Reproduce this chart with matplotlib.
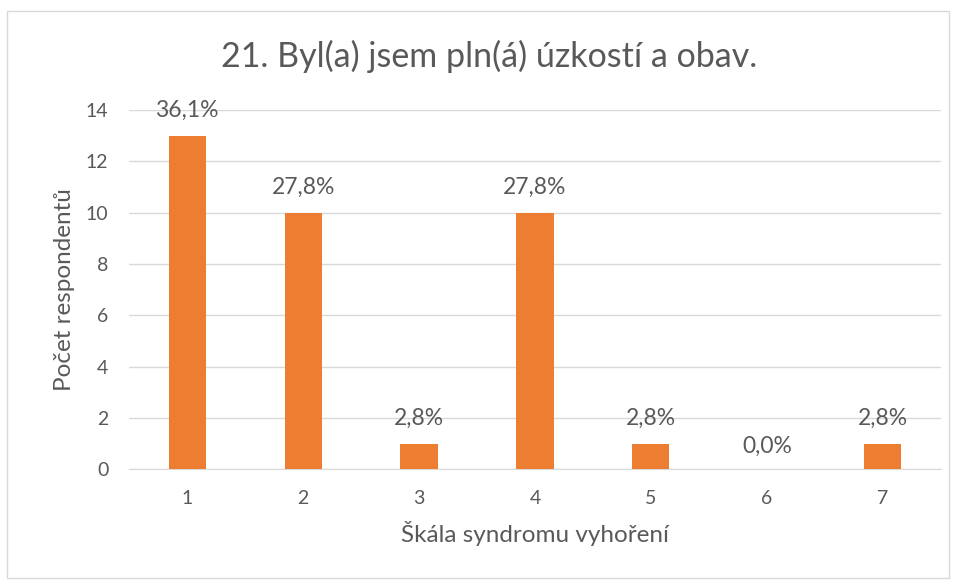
import matplotlib.pyplot as plt
from matplotlib.patches import Rectangle

kategorie = ["1", "2", "3", "4", "5", "6", "7"]
pocty = [13, 10, 1, 10, 1, 0, 1]
popisky = ["36,1%", "27,8%", "2,8%", "27,8%", "2,8%", "0,0%", "2,8%"]

SEDA = "#595959"
ORANZOVA = "#ED7D31"

plt.rcParams['font.family'] = ['Lato', 'DejaVu Sans']

fig = plt.figure(figsize=(9.57, 5.8), dpi=100)
ax = fig.add_axes([0.135, 0.191, 0.848, 0.619])

x = range(len(kategorie))
ax.bar(x, pocty, width=0.32, color=ORANZOVA, zorder=3)

for xi, v, txt in zip(x, pocty, popisky):
    posun = 0.9 if v == 0 else 1.0
    ax.text(xi, v + posun, txt, ha="center", va="center", fontsize=16.5, color=SEDA)

ax.set_xlim(-0.5, len(kategorie) - 0.5)
ax.set_ylim(0, 14)
ax.set_yticks(range(0, 15, 2))
ax.set_xticks(list(x))
ax.set_xticklabels(kategorie)
ax.tick_params(axis="both", length=0, labelsize=14, colors=SEDA)
ax.tick_params(axis="y", pad=15)
ax.tick_params(axis="x", pad=15)
ax.grid(axis="y", color="#D9D9D9", linewidth=1, zorder=0)

for s in ["top", "right", "left"]:
    ax.spines[s].set_visible(False)
ax.spines["bottom"].set_color("#D9D9D9")

ax.set_xlabel("Škála syndromu vyhoření", fontsize=17.5, color=SEDA, labelpad=10)
ax.set_ylabel("Počet respondentů", fontsize=17.5, color=SEDA, labelpad=8)

fig.text(0.511, 0.902, "21. Byl(a) jsem pln(á) úzkostí a obav.", ha="center", va="center",
         fontsize=24.5, color=SEDA)

fig.patches.append(Rectangle((0.007, 0.003), 0.985, 0.978, transform=fig.transFigure,
                             fill=False, edgecolor="#D9D9D9", linewidth=1))

fig.savefig("out.png", dpi=100)
